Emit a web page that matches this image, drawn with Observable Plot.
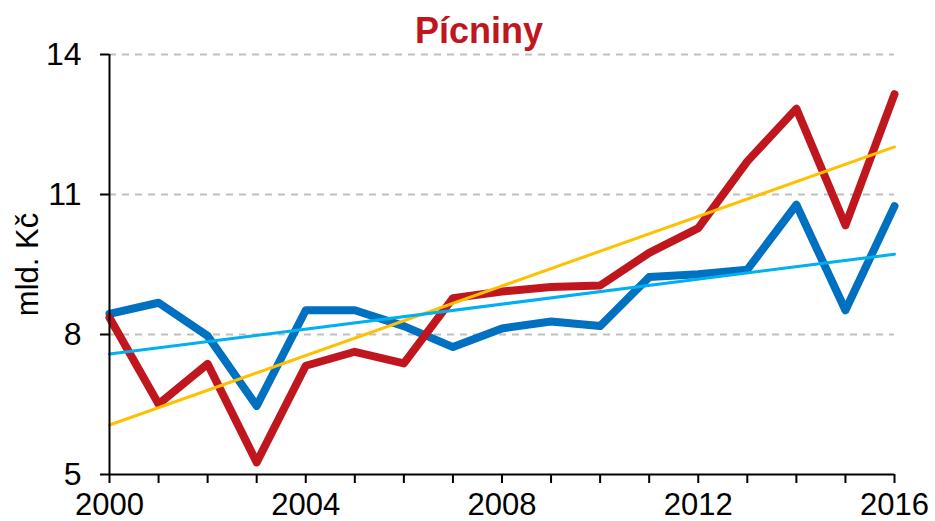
<!DOCTYPE html>
<html>
<head>
<meta charset="utf-8">
<script src="https://cdn.jsdelivr.net/npm/d3@7"></script>
<script src="https://cdn.jsdelivr.net/npm/@observablehq/plot@0.6"></script>
<style>
  html, body { margin: 0; padding: 0; background: #fff; }
</style>
</head>
<body>
<div id="chart"></div>
<script>
const title = "Pícniny";
const yLabel = "mld. Kč";
const years = [2000, 2001, 2002, 2003, 2004, 2005, 2006, 2007, 2008, 2009, 2010, 2011, 2012, 2013, 2014, 2015, 2016];
const redValues = [8.36, 6.51, 7.37, 5.26, 7.33, 7.63, 7.38, 8.78, 8.92, 9.02, 9.05, 9.75, 10.28, 11.71, 12.84, 10.34, 13.15];
const blueValues = [8.44, 8.68, 7.97, 6.47, 8.52, 8.52, 8.18, 7.73, 8.13, 8.28, 8.18, 9.23, 9.29, 9.39, 10.78, 8.52, 10.75];
const yTicks = [5, 8, 11, 14];
const xLabelTicks = [2000, 2004, 2008, 2012, 2016];

const red = years.map((year, i) => ({year, value: redValues[i]}));
const blue = years.map((year, i) => ({year, value: blueValues[i]}));

const font = "'Liberation Sans', Arial, Helvetica, sans-serif";

const chart = Plot.plot({
  width: 935,
  height: 521,
  marginLeft: 109,
  marginRight: 41,
  marginTop: 54,
  marginBottom: 47,
  style: {fontFamily: font, background: "#fff", color: "#000"},
  x: {domain: [2000, 2016]},
  y: {domain: [5, 14]},
  marks: [
    Plot.gridY(yTicks.filter(d => d !== 5), {stroke: "#bfbfbf", strokeOpacity: 1, strokeWidth: 2, strokeDasharray: "7,6"}),
    Plot.line(blue, {x: "year", y: "value", stroke: "#0070C0", strokeWidth: 8, strokeLinejoin: "round", strokeLinecap: "round"}),
    Plot.line(red, {x: "year", y: "value", stroke: "#C0171F", strokeWidth: 8, strokeLinejoin: "round", strokeLinecap: "round"}),
    Plot.linearRegressionY(red, {x: "year", y: "value", stroke: "#FFC000", strokeWidth: 3, ci: 0}),
    Plot.linearRegressionY(blue, {x: "year", y: "value", stroke: "#00B0F0", strokeWidth: 3, ci: 0}),
    Plot.ruleX([2000], {stroke: "#000", strokeWidth: 2}),
    Plot.ruleY([5], {stroke: "#000", strokeWidth: 2}),
    Plot.axisY({ticks: yTicks, tickSize: 9, tickPadding: 19, fontSize: 32, strokeWidth: 2, label: null, tickFormat: d => String(d)}),
    Plot.axisX({ticks: years, tickSize: 9, tickPadding: 9, fontSize: 31, strokeWidth: 2, label: null,
      tickFormat: d => xLabelTicks.includes(d) ? String(d) : ""}),
    Plot.text([yLabel], {text: d => d, frameAnchor: "left", rotate: -90, dx: -81, fontSize: 31,
      textAnchor: "middle", lineAnchor: "middle", fill: "#000"}),
    Plot.text([title], {text: d => d, frameAnchor: "top", dx: -23, dy: -23.5, fontSize: 36, fontWeight: "bold",
      textAnchor: "middle", lineAnchor: "middle", fill: "#C0171F"})
  ]
});
document.getElementById("chart").appendChild(chart);
</script>
</body>
</html>
